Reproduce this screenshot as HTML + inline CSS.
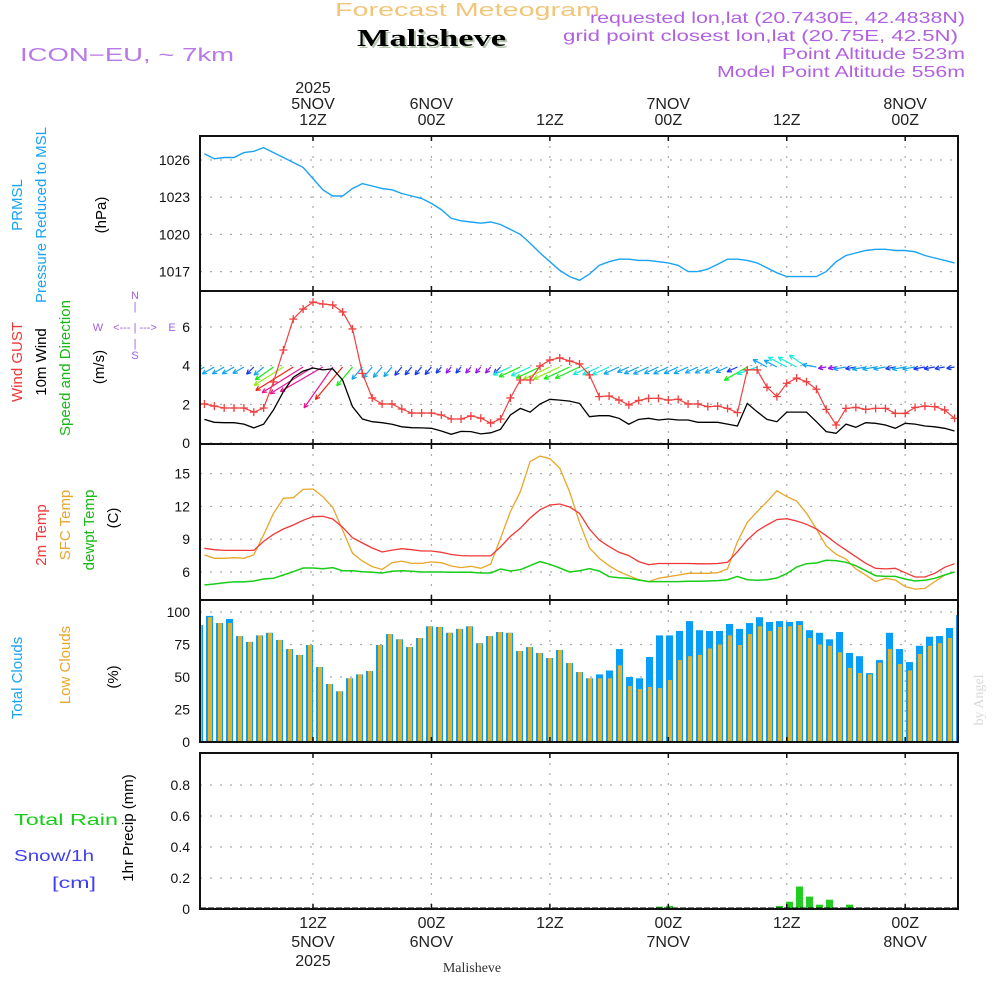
<!DOCTYPE html>
<html><head><meta charset="utf-8"><style>
html,body{margin:0;padding:0;background:#fff;}
svg{display:block;font-family:"Liberation Sans",sans-serif;}
</style></head><body>
<svg id="c" width="1000" height="1000" viewBox="0 0 1000 1000">
<defs><clipPath id="plotclip"><rect x="200" y="130" width="758" height="780"/></clipPath></defs>
<g>
<text x="335" y="16" font-size="18" fill="#f2c67a" textLength="265" lengthAdjust="spacingAndGlyphs">Forecast Meteogram</text>
<text x="359" y="48" font-size="24" font-weight="bold" font-family="Liberation Serif,serif" fill="#b8c8b0" textLength="149" lengthAdjust="spacingAndGlyphs">Malisheve</text>
<text x="357" y="46" font-size="24" font-weight="bold" font-family="Liberation Serif,serif" fill="#000" textLength="149" lengthAdjust="spacingAndGlyphs">Malisheve</text>
<text x="20" y="61" font-size="18" fill="#b878e8" textLength="214" lengthAdjust="spacingAndGlyphs">ICON−EU, ~ 7km</text>
<g font-size="16" fill="#b060e0">
<text x="590" y="23" textLength="375" lengthAdjust="spacingAndGlyphs">requested lon,lat (20.7430E, 42.4838N)</text>
<text x="563" y="41" textLength="395" lengthAdjust="spacingAndGlyphs">grid point closest lon,lat (20.75E, 42.5N)</text>
<text x="782" y="59" textLength="183" lengthAdjust="spacingAndGlyphs">Point Altitude 523m</text>
<text x="717" y="77" textLength="248" lengthAdjust="spacingAndGlyphs">Model Point Altitude 556m</text>
</g>
</g>
<g id="grid"></g>
<g id="marks" clip-path="url(#plotclip)"></g>
<g id="frames"></g>
<g id="labels"></g>
</svg>
<script>
// ---- data (hours since 00Z 5NOV, h = 1..77) ----
const hours = Array.from({length:77},(_,i)=>i+1);
const pressure = [1026.5,1026.1,1026.2,1026.2,1026.6,1026.7,1027.0,1026.6,1026.2,1025.8,1025.4,1024.5,1023.6,1023.1,1023.1,1023.7,1024.1,1023.9,1023.7,1023.6,1023.3,1023.1,1022.9,1022.5,1022.0,1021.3,1021.1,1021.0,1020.9,1021.0,1020.8,1020.4,1020.0,1019.3,1018.5,1017.8,1017.1,1016.6,1016.3,1016.8,1017.5,1017.8,1018.0,1018.0,1017.9,1017.9,1017.8,1017.7,1017.5,1017.0,1017.0,1017.2,1017.6,1018.0,1018.0,1017.9,1017.7,1017.3,1016.9,1016.6,1016.6,1016.6,1016.6,1017.0,1017.8,1018.3,1018.5,1018.7,1018.8,1018.8,1018.7,1018.7,1018.6,1018.3,1018.1,1017.9,1017.7];
const gust = [2.02,1.91,1.81,1.81,1.81,1.6,1.81,3.16,4.81,6.41,6.93,7.29,7.19,7.14,6.78,5.9,3.6,2.33,2.02,2.02,1.76,1.55,1.55,1.55,1.45,1.24,1.24,1.4,1.29,1.03,1.24,2.33,3.26,3.26,3.98,4.29,4.4,4.24,4.09,3.52,2.4,2.43,2.22,1.97,2.2,2.31,2.31,2.22,2.26,2.02,2.02,1.88,1.91,1.79,1.57,3.78,3.78,2.88,2.4,3.09,3.36,3.17,2.78,1.74,0.93,1.79,1.84,1.74,1.79,1.79,1.53,1.53,1.84,1.91,1.88,1.71,1.28];
const wind10 = [1.22,1.07,1.05,1.05,0.98,0.78,0.97,1.71,2.66,3.4,3.72,3.88,3.78,3.84,3.26,1.88,1.24,1.1,1.05,0.97,0.84,0.79,0.78,0.76,0.62,0.45,0.6,0.59,0.47,0.53,0.71,1.45,1.79,1.6,2.02,2.26,2.22,2.17,2.05,1.36,1.41,1.41,1.28,0.97,1.22,1.28,1.19,1.24,1.19,1.19,1.07,1.07,1.07,0.98,0.88,2.05,1.62,1.22,1.1,1.6,1.6,1.6,1.1,0.59,0.5,0.98,0.81,1.05,1.02,0.93,0.76,1.02,0.98,0.88,0.84,0.76,0.62];
const windDir = [60,60,60,60,60,45,50,55,58,58,58,58,60,35,40,40,40,40,40,40,40,40,40,40,40,40,40,40,40,40,45,65,65,65,65,65,65,65,65,65,65,65,65,65,65,65,65,65,65,65,65,65,65,65,65,60,70,118,118,118,118,125,100,80,80,80,80,80,80,80,80,80,80,80,80,80,80];
const temp2m = [8.17,8.04,7.98,7.98,7.98,7.98,8.8,9.45,9.93,10.3,10.73,11.06,11.1,10.85,10.1,9.14,8.65,8.2,7.83,8.0,8.13,8.04,7.92,7.92,7.8,7.6,7.5,7.47,7.47,7.47,8.3,9.26,10.0,10.94,11.7,12.13,12.22,11.95,11.37,9.93,8.93,8.32,7.8,7.5,6.95,6.67,6.78,6.78,6.78,6.78,6.75,6.75,6.78,6.89,7.86,8.93,9.75,10.3,10.79,10.88,10.67,10.36,9.93,9.32,8.62,8.0,7.4,6.8,6.34,6.28,6.34,5.94,5.54,5.54,5.88,6.43,6.76];
const tempSfc = [7.56,7.25,7.25,7.31,7.25,7.56,9.39,11.37,12.74,12.8,13.56,13.59,12.89,11.92,9.84,7.71,7.0,6.49,6.24,6.85,7.0,6.79,6.79,6.92,6.85,6.55,6.4,6.52,6.34,6.73,9.08,11.52,13.35,16.1,16.6,16.37,15.49,13.35,10.55,8.22,7.25,6.58,6.03,5.66,5.3,5.12,5.42,5.57,5.72,5.88,5.88,5.88,5.94,6.28,8.77,10.55,11.52,12.43,13.44,12.89,12.5,11.37,9.93,8.38,7.62,7.19,6.28,5.72,5.12,5.42,5.27,4.66,4.44,4.5,5.12,5.72,6.03];
const dewpt = [4.81,4.9,5.02,5.09,5.09,5.18,5.36,5.42,5.73,6.03,6.37,6.37,6.3,6.4,6.12,6.12,6.03,5.97,5.91,6.06,6.12,6.06,6.0,6.0,6.0,5.97,5.97,5.97,5.91,5.91,6.27,6.09,6.21,6.58,6.95,6.7,6.37,6.0,6.12,6.3,6.09,5.57,5.48,5.42,5.27,5.12,5.12,5.12,5.12,5.15,5.15,5.18,5.21,5.3,5.6,5.3,5.24,5.3,5.45,5.85,6.46,6.76,6.82,7.07,7.04,6.89,6.58,6.12,5.66,5.6,5.6,5.36,5.18,5.24,5.42,5.73,6.0];
const totalClouds = [90,97,91.5,94.6,81.5,77,82,84,78.5,71.5,67,74.6,57.7,44.6,39,49,52,54.6,74.6,83,79,73,80,89,88.5,84,87,89,76,81.5,84.6,84,70,73,68.5,64.6,70.8,60.7,53.8,49,52,55,71.5,50,49,65.4,82,82,85.4,93,86,85.4,85.4,90.8,87,91.5,96,92.3,93,92.3,93,86,84,79,84.6,68.5,66,53,63,84,71.5,61.5,74,81,81.5,87.7,97.7];
const lowClouds = [90,96,91.5,91.5,81.5,77,82,84,78.5,71.5,67,74.6,57.7,44.6,39,49,52,54.6,74.6,83,79,73,80,89,88.5,84,87,89,76,81.5,84.6,84,70,73,68.5,64.6,70.8,60.7,53.8,49,49,49,59,43,40.8,42.3,41.5,47.7,63,66,67,72,75,82,74.6,83,89,85.4,88.5,89,90,80,75,74,69,57,53,52,61,71.5,60,55,67.7,74,76,80,76];
const precipIdx = [46,47,48,58,59,60,61,62,63,65];
const precipVal = [0.015,0.02,0.003,0.02,0.047,0.145,0.08,0.028,0.06,0.028];
const pTicks = [1017,1020,1023,1026];
const wTicks = [0,2,4,6];
const tTicks = [6,9,12,15];
const cTicks = [0,25,50,75,100];
const rTicks = [0,0.2,0.4,0.6,0.8];
const timeTicks = [12,24,36,48,60,72];
const timeTop = [["2025","5NOV","12Z"],["","6NOV","00Z"],["","","12Z"],["","7NOV","00Z"],["","","12Z"],["","8NOV","00Z"]];
const timeBot = [["12Z","5NOV","2025"],["00Z","6NOV",""],["12Z","",""],["00Z","7NOV",""],["12Z","",""],["00Z","8NOV",""]];

// ---- scales ----
const L=200,R=958;
const x=h=>313+(h-12)*9.87;
const xb=i=>196+10*i;
const yP=v=>160+(1026-v)*12.4;
const yW=v=>443-v*19.33;
const yT=v=>572-(v-6)*10.93;
const yC=v=>742-v*1.3;
const yR=v=>909-v*155;
const panels=[{n:'pressure',t:136,b:291},{n:'wind',t:291,b:444},{n:'temp',t:444,b:600},{n:'clouds',t:600,b:742},{n:'precip',t:753,b:909}];

const NS='http://www.w3.org/2000/svg';
function mk(tag,parent,attrs){const e=document.createElementNS(NS,tag);for(const k in attrs)e.setAttribute(k,attrs[k]);parent.appendChild(e);return e;}
const G=document.getElementById('grid'),M=document.getElementById('marks'),F=document.getElementById('frames'),Lb=document.getElementById('labels');

function hgrid(vals,yf,name){vals.forEach(v=>{const l=mk('line',G,{x1:L,x2:R,y1:yf(v),y2:yf(v),stroke:'#aaa','stroke-dasharray':'2,8','stroke-width':1.2});

});}
hgrid(pTicks,yP,'pressure');hgrid(wTicks,yW,'wind');hgrid(tTicks,yT,'temp');hgrid(cTicks,yC,'clouds');hgrid(rTicks,yR,'precip');
panels.forEach(p=>{timeTicks.forEach(h=>{const l=mk('line',G,{x1:x(h),x2:x(h),y1:p.t,y2:p.b,stroke:'#aaa','stroke-dasharray':'2,8','stroke-width':1.2});

});});

function line(vals,yf,color,name,w){const pts=vals.map((v,i)=>x(hours[i]).toFixed(1)+','+yf(v).toFixed(1)).join(' ');
const e=mk('polyline',M,{points:pts,fill:'none',stroke:color,'stroke-width':w||1.3});

return e;}

line(pressure,yP,'#1aa3f5','pressure-line',1.4);

totalClouds.forEach((v,i)=>{const r=mk('rect',M,{x:xb(i),y:yC(v),width:7,height:742-yC(v),fill:'#079ef8'});

});
lowClouds.forEach((v,i)=>{const r=mk('rect',M,{x:xb(i)+2,y:yC(v),width:4,height:742-yC(v),fill:'#e8b02a'});

});

precipVal.forEach((v,k)=>{const r=mk('rect',M,{x:xb(precipIdx[k]),y:yR(v),width:7,height:909-yR(v),fill:'#22cc22'});

});
const base=mk('line',M,{x1:L,x2:R,y1:908.5,y2:908.5,stroke:'#000','stroke-width':2,'stroke-dasharray':'6,2'});



line(tempSfc,yT,'#e8a62a','sfc-temp-line',1.3);
line(temp2m,yT,'#f03838','temp-2m-line',1.3);
line(dewpt,yT,'#18cc18','dewpoint-line',1.5);

function spdColor(s){const hue= s<0.6?275: s<0.9?230: s<1.3?200: s<1.7?175: s<2.2?120: s<2.7?85: s<3.2?55: s<3.6?5: 325;return 'hsl('+hue+',85%,50%)';}
wind10.forEach((s,i)=>{const to=(windDir[i]+180)*Math.PI/180;const Ln=Math.max(8,s*13);
const x0=x(hours[i]),y0=367;const x1=x0+Math.sin(to)*Ln,y1=y0-Math.cos(to)*Ln;
const g=mk('g',M,{stroke:spdColor(s),'stroke-width':1.2,fill:'none'});


mk('line',g,{x1:x0,y1:y0,x2:x1,y2:y1});
const a=Math.atan2(y0-y1,x0-x1);
[0.45,-0.45].forEach(d=>{mk('line',g,{x1:x1,y1:y1,x2:x1+5*Math.cos(a+d),y2:y1+5*Math.sin(a+d)});});});
line(wind10,yW,'#000','wind-10m-line',1.3);
line(gust,yW,'#f04040','gust-line',1.2);
gust.forEach((v,i)=>{const cx=x(hours[i]),cy=yW(v);const g=mk('path',M,{d:`M${cx-4},${cy}H${cx+4}M${cx},${cy-4}V${cy+4}`,stroke:'#f04040','stroke-width':1.3});

});

panels.forEach(p=>{const r=mk('rect',F,{x:L,y:p.t,width:R-L,height:p.b-p.t,fill:'none',stroke:'#111','stroke-width':2});


timeTicks.forEach(h=>{mk('line',F,{x1:x(h),x2:x(h),y1:p.t,y2:p.t+5,stroke:'#111','stroke-width':1.5});mk('line',F,{x1:x(h),x2:x(h),y1:p.b,y2:p.b-5,stroke:'#111','stroke-width':1.5});});});

function ylab(vals,yf,fmt,name){vals.forEach(v=>{const t=mk('text',Lb,{x:190,y:yf(v)+5,'text-anchor':'end','font-size':14,fill:'#111'});t.textContent=fmt(v);

});}
ylab(pTicks,yP,v=>v,'pressure');ylab(wTicks,yW,v=>v,'wind');ylab(tTicks,yT,v=>v,'temp');ylab(cTicks,yC,v=>v,'clouds');ylab(rTicks,yR,v=>v==0?'0':v.toFixed(1),'precip');

timeTicks.forEach((h,k)=>{[0,1,2].forEach(j=>{if(timeTop[k][j]){const t=mk('text',Lb,{x:x(h),y:93+j*16,'text-anchor':'middle','font-size':16,fill:'#222'});t.textContent=timeTop[k][j];

}
if(timeBot[k][j]){const t=mk('text',Lb,{x:x(h),y:928+j*19,'text-anchor':'middle','font-size':16,fill:'#222'});t.textContent=timeBot[k][j];

}});});

const rot=[["PRMSL",22,205,'#1aa3f5'],["Pressure Reduced to MSL",46,215,'#1aa3f5'],["(hPa)",106,215,'#000'],
["Wind GUST",22,362,'#f03838'],["10m Wind",46,362,'#000'],["Speed and Direction",70,368,'#18b818'],["(m/s)",104,367,'#000'],
["2m Temp",46,535,'#f03838'],["SFC Temp",70,525,'#e8a62a'],["dewpt Temp",94,530,'#18b818'],["(C)",118,518,'#000'],
["Total Clouds",22,678,'#1aa3f5'],["Low Clouds",70,665,'#e8a62a'],["(%)",118,677,'#000'],["1hr Precip (mm)",133,828,'#000']];
rot.forEach(r=>{const t=mk('text',Lb,{x:r[1],y:r[2],transform:`rotate(-90 ${r[1]} ${r[2]})`,'text-anchor':'middle','font-size':15,fill:r[3]});t.textContent=r[0];

});
</script>
<svg style="position:absolute;left:0;top:0" width="1000" height="1000">
<g font-family="Liberation Sans,sans-serif">
<text x="14" y="825" font-size="16" fill="#18cc18" textLength="104" lengthAdjust="spacingAndGlyphs">Total  Rain</text>
<text x="14" y="861" font-size="16" fill="#4040f0" textLength="80" lengthAdjust="spacingAndGlyphs">Snow/1h</text>
<text x="52" y="888" font-size="16" fill="#4040f0" textLength="44" lengthAdjust="spacingAndGlyphs">[cm]</text>
<text x="472" y="972" font-size="14" text-anchor="middle" font-family="Liberation Serif,serif" fill="#333">Malisheve</text>
<text x="983" y="700" font-size="14" fill="#d8d8d8" font-family="Liberation Serif,serif" text-anchor="middle" transform="rotate(-90 983 700)">by Angel</text>
<g fill="#a060e0" font-size="11" text-anchor="middle">
<text x="135" y="299">N</text><text x="135" y="310">|</text>
<text x="98" y="331">W</text><text x="135" y="331">&lt;--- | ---&gt;</text><text x="172" y="331">E</text>
<text x="135" y="347">|</text><text x="135" y="359">S</text>
</g>
</g>
</svg>
</body></html>
